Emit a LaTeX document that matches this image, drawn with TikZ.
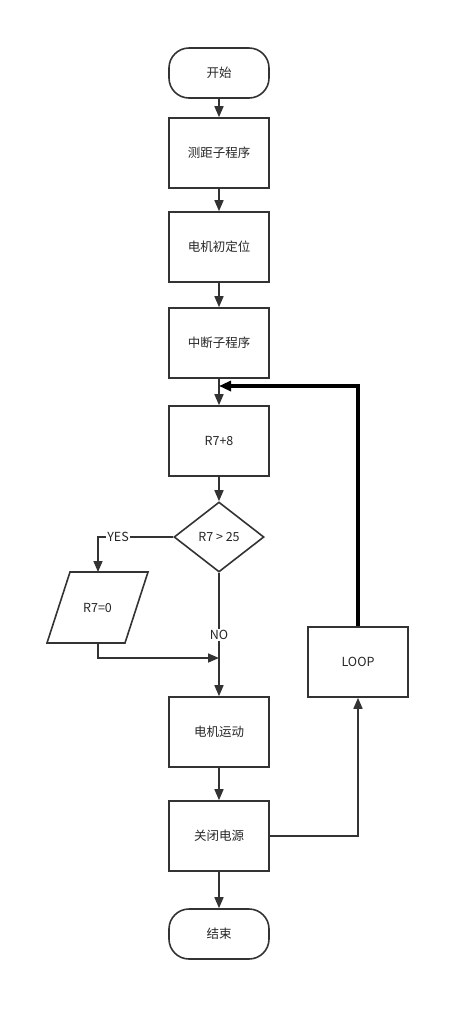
\documentclass[tikz,border=0pt]{standalone}
\usepackage{fontspec}
\setmainfont{Liberation Sans}
\newfontfamily\cjk{Noto Sans CJK SC}
\usetikzlibrary{arrows.meta,shapes.geometric,calc}
\begin{document}
\begin{tikzpicture}[x=1pt,y=-1pt,
  every node/.style={font=\fontsize{12.5}{14}\selectfont\cjk, text=black!85},
  proc/.style={draw=black!80, line width=1.6pt, minimum width=100pt, minimum height=70pt, inner sep=0pt},
  term/.style={draw=black!80, line width=1.6pt, rounded corners=20pt, minimum width=100pt, minimum height=50pt, inner sep=0pt},
  dec/.style={draw=black!80, line width=1.6pt, diamond, minimum width=90pt, minimum height=70pt, inner sep=0pt, aspect=1.3},
  conn/.style={draw=black!80, line width=1.6pt, -{Triangle[length=11pt,width=9pt]}},
  plain/.style={draw=black!80, line width=1.6pt},
  thick/.style={draw=black, line width=3.2pt},
  lbl/.style={fill=white, inner sep=1pt}]
\useasboundingbox (0,0) rectangle (470,1021);
\node[term] (start) at (219,73) {开始};
\node[proc] (b1) at (219,153) {测距子程序};
\node[proc] (b2) at (219,247) {电机初定位};
\node[proc] (b3) at (219,343) {中断子程序};
\node[proc] (b4) at (219,441) {R7+8};
\node[dec, minimum width=90pt, minimum height=70pt] (d) at (219,537) {R7 > 25};
\node[proc] (b5) at (219,732) {电机运动};
\node[proc] (b6) at (219,836) {关闭电源};
\node[term] (end) at (219,934) {结束};
\node[proc] (loop) at (358,662) {LOOP};
\draw[plain] (70,572) -- (148,572) -- (125,643) -- (47,643) -- cycle;
\node (par) at (97.5,607.5) {R7=0};
\coordinate (partop) at (98,572);
\coordinate (parbot) at (98,643);
\coordinate (merge) at (219,658);
\coordinate (entry) at (219,386);
\draw[conn] (start) -- (b1);
\draw[conn] (b1) -- (b2);
\draw[conn] (b2) -- (b3);
\draw[conn] (b3) -- (b4);
\draw[conn] (b4) -- (d);
\draw[conn] (d.west) -- (98,537) -- (partop);
\node[lbl] (yes) at (118,537) {YES};
\draw[plain] (d.south) -- (merge);
\draw[conn] (parbot) -- (98,658) -- (merge);
\draw[conn] (merge) -- (b5);
\node[lbl] (no) at (219,635) {NO};
\draw[conn] (b5) -- (b6);
\draw[conn] (b6) -- (end);
\draw[conn] (b6.east) -- (358,836) -- (loop.south);
\draw[thick, -{Triangle[length=12pt,width=10pt]}] (loop.north) -- (358,386) -- (entry);
\end{tikzpicture}
\end{document}
